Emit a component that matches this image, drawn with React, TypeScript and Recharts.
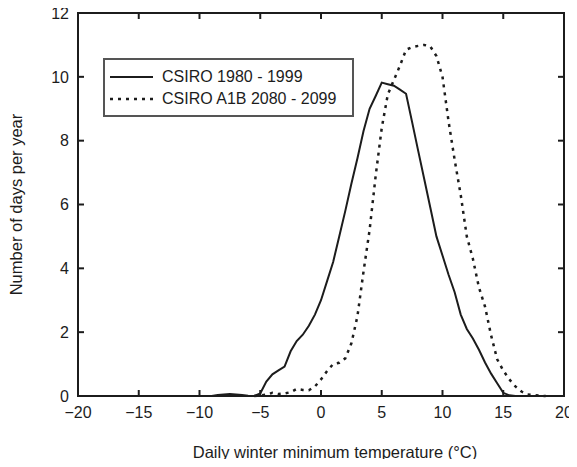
import React from 'react';
import { LineChart, Line, XAxis, YAxis, Legend, ReferenceArea } from 'recharts';

// temperature grid (°C) shared by both series
const temps = [
  -9, -8.5, -8, -7.5, -7, -6.5, -6, -5.5, -5, -4.5, -4, -3.5, -3, -2.5, -2, -1.5, -1, -0.5,
  0, 0.5, 1, 1.5, 2, 2.5, 3, 3.5, 4, 4.5, 5, 5.5, 6, 6.5, 7, 7.5, 8, 8.5, 9, 9.5,
  10, 10.5, 11, 11.5, 12, 12.5, 13, 13.5, 14, 14.5, 15, 15.5, 16, 16.5, 17, 17.5, 18, 18.5,
];

// CSIRO 1980 - 1999 (days per year)
const current = [
  0, 0.03, 0.05, 0.06, 0.05, 0.03, 0.01, 0, 0.08, 0.45, 0.68, 0.8, 0.92, 1.4, 1.72, 1.92, 2.2, 2.55,
  3.0, 3.6, 4.2, 5.0, 5.8, 6.65, 7.45, 8.3, 9.0, 9.4, 9.82, 9.77, 9.72, 9.6, 9.47, 8.58, 7.68, 6.79, 5.9, 5.0,
  4.4, 3.8, 3.25, 2.55, 2.1, 1.8, 1.45, 1.05, 0.7, 0.4, 0.1, 0.02, 0, null, null, null, null, null,
];

// CSIRO A1B 2080 - 2099 (days per year)
const future = [
  null, null, null, null, null, null, null, 0, 0.02, 0.04, 0.1, 0.06, 0.08, 0.12, 0.22, 0.19, 0.18, 0.3,
  0.52, 0.78, 1.0, 1.04, 1.18, 1.65, 2.5, 3.9, 5.2, 6.9, 8.4, 9.45, 9.9, 10.35, 10.85, 10.93, 10.97, 11.0, 10.95, 10.65,
  10.0, 8.6, 7.4, 6.3, 5.0, 4.3, 3.4, 2.8, 1.9, 1.15, 0.8, 0.52, 0.3, 0.14, 0.05, 0.03, 0.01, 0,
];

const xTicks = [-20, -15, -10, -5, 0, 5, 10, 15, 20];
const yTicks = [0, 2, 4, 6, 8, 10, 12];

const seriesNames = ['CSIRO 1980 - 1999', 'CSIRO A1B 2080 - 2099'];

const data = temps.map((t, i) => ({ t, current: current[i], future: future[i] }));

const FONT = '"Liberation Sans", Arial, Helvetica, sans-serif';
const INK = '#1c1c1c';
const DOTS = '3 5';

const fmt = (v: number) => String(v).replace('-', '\u2212');

// top/right axes only need their tick marks, no labels
const NoLabel = () => <g />;

function LegendBox() {
  const row = (dash: string | undefined, label: string) => (
    <div style={{ display: 'flex', alignItems: 'center', height: 22 }}>
      <svg width={43} height={6} style={{ marginLeft: 5, marginRight: 9 }}>
        <line x1={0} y1={3} x2={43} y2={3} stroke={INK} strokeWidth={dash ? 2.5 : 2} strokeDasharray={dash} />
      </svg>
      <span>{label}</span>
    </div>
  );
  return (
    <div
      style={{
        boxSizing: 'border-box',
        width: 251,
        height: 59,
        border: '2px solid #555',
        background: '#fff',
        paddingTop: 6,
        fontFamily: FONT,
        fontSize: 16,
        color: INK,
        lineHeight: '22px',
      }}
    >
      {row(undefined, seriesNames[0])}
      {row(DOTS, seriesNames[1])}
    </div>
  );
}

export default function App() {
  return (
    <div style={{ margin: -8 }}>
      <LineChart width={577} height={467} data={data} margin={{ top: 12, right: 12, left: 18, bottom: 41 }}>
        <XAxis
          xAxisId="b"
          dataKey="t"
          type="number"
          domain={[-20, 20]}
          ticks={xTicks}
          interval={0}
          height={30}
          tickSize={-6}
          tickMargin={17}
          tickLine={{ stroke: INK, strokeWidth: 2 }}
          axisLine={{ stroke: INK, strokeWidth: 2 }}
          tick={{ fontSize: 16, fill: INK, fontFamily: FONT }}
          tickFormatter={fmt}
          label={{
            value: 'Daily winter minimum temperature (°C)',
            position: 'bottom',
            offset: 20,
            dx: 14,
            fontSize: 16.5,
            fill: INK,
            fontFamily: FONT,
          }}
        />
        <XAxis
          xAxisId="t"
          orientation="top"
          dataKey="t"
          type="number"
          domain={[-20, 20]}
          ticks={xTicks}
          interval={0}
          height={1}
          tickSize={-6}
          tickLine={{ stroke: INK, strokeWidth: 2 }}
          axisLine={{ stroke: INK, strokeWidth: 2 }}
          tick={<NoLabel />}
        />
        <YAxis
          yAxisId="l"
          type="number"
          domain={[0, 12]}
          ticks={yTicks}
          interval={0}
          width={60}
          tickSize={-6}
          tickMargin={15}
          tickLine={{ stroke: INK, strokeWidth: 2 }}
          axisLine={{ stroke: INK, strokeWidth: 2 }}
          tick={{ fontSize: 16, fill: INK, fontFamily: FONT }}
          label={{
            value: 'Number of days per year',
            angle: -90,
            position: 'insideLeft',
            offset: -2,
            style: { textAnchor: 'middle' },
            fontSize: 16.5,
            fill: INK,
            fontFamily: FONT,
          }}
        />
        <YAxis
          yAxisId="r"
          orientation="right"
          type="number"
          domain={[0, 12]}
          ticks={yTicks}
          interval={0}
          width={1}
          tickSize={-6}
          tickLine={{ stroke: INK, strokeWidth: 2 }}
          axisLine={{ stroke: INK, strokeWidth: 2 }}
          tick={<NoLabel />}
        />
        {/* closed plot frame */}
        <ReferenceArea xAxisId="b" yAxisId="l" x1={-20} x2={20} y1={0} y2={12} fill="none" stroke={INK} strokeWidth={2} />
        <Legend
          layout="horizontal"
          verticalAlign="middle"
          align="center"
          wrapperStyle={{ left: 103, top: 58, width: 251 }}
          content={() => <LegendBox />}
        />
        <Line
          xAxisId="b"
          yAxisId="l"
          type="linear"
          dataKey="current"
          name={seriesNames[0]}
          stroke={INK}
          strokeWidth={2}
          dot={false}
          isAnimationActive={false}
        />
        <Line
          xAxisId="t"
          yAxisId="r"
          type="linear"
          dataKey="future"
          name={seriesNames[1]}
          stroke={INK}
          strokeWidth={2.5}
          strokeDasharray={DOTS}
          dot={false}
          isAnimationActive={false}
        />
      </LineChart>
    </div>
  );
}
